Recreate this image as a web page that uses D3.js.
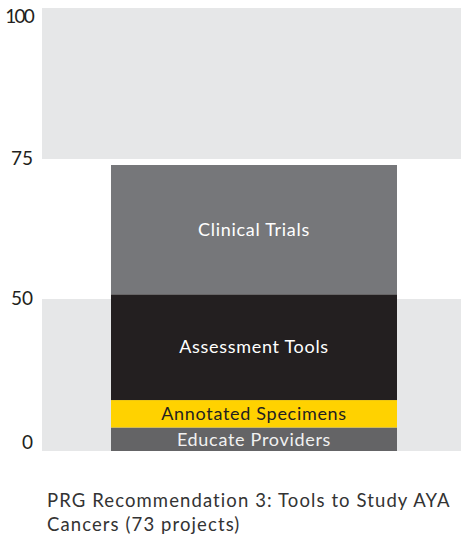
<!DOCTYPE html>
<html>
<head>
<meta charset="utf-8">
<script src="https://cdn.jsdelivr.net/npm/d3@7"></script>
<style>
  body { margin: 0; background: #fff; }
  svg text { font-family: Lato, "Open Sans", sans-serif; }
</style>
</head>
<body>
<svg id="chart" width="461" height="537"></svg>
<script>
// data
const categories = ["Educate Providers", "Annotated Specimens", "Assessment Tools", "Clinical Trials"];
const projects = [6, 7, 27, 33];
const colors = ["#646466", "#ffd200", "#231f20", "#76777a"];
const labelColors = ["#f1f1f1", "#231f20", "#ffffff", "#ffffff"];
const ticks = [0, 50, 75, 100];
const bands = [[75, 100], [0, 50]];
const title = ["PRG Recommendation 3: Tools to Study AYA", "Cancers (73 projects)"];

const svg = d3.select("#chart");

// axis ticks are spaced evenly-ish, not linear
const y = d3.scaleLinear()
  .domain(ticks)
  .range([451, 299, 159, 8]);

const total = d3.sum(projects);
const yBar = d3.scaleLinear()
  .domain([0, total])
  .range([451, 165]);

// grey background bands
svg.selectAll(".band")
  .data(bands)
  .enter()
  .append("rect")
  .attr("class", "band")
  .attr("x", 42)
  .attr("width", 461 - 42)
  .attr("y", d => y(d[1]))
  .attr("height", d => y(d[0]) - y(d[1]))
  .attr("fill", "#e6e7e8");

// tick labels
svg.selectAll(".tick-label")
  .data(ticks)
  .enter()
  .append("text")
  .attr("class", "tick-label")
  .attr("x", 33)
  .attr("y", d => y(d))
  .attr("dy", d => d === 0 ? "-0.12em" : d === 100 ? "0.78em" : "0.34em")
  .attr("text-anchor", "end")
  .attr("font-size", 19)
  .attr("letter-spacing", d => d === 100 ? "-1.8px" : "0px")
  .attr("fill", "#231f20")
  .text(d => d);

// stacked bar
const stacked = [];
let acc = 0;
projects.forEach((v, i) => {
  stacked.push({ name: categories[i], y0: acc, y1: acc + v, i: i });
  acc += v;
});

const barX = 111, barW = 286;

svg.selectAll(".seg")
  .data(stacked)
  .enter()
  .append("rect")
  .attr("class", "seg")
  .attr("x", barX)
  .attr("width", barW)
  .attr("y", d => yBar(d.y1))
  .attr("height", d => yBar(d.y0) - yBar(d.y1))
  .attr("fill", d => colors[d.i]);

svg.selectAll(".seg-label")
  .data(stacked)
  .enter()
  .append("text")
  .attr("class", "seg-label")
  .attr("x", barX + barW / 2)
  .attr("y", d => (yBar(d.y0) + yBar(d.y1)) / 2)
  .attr("dy", "0.35em")
  .attr("text-anchor", "middle")
  .attr("font-size", 18)
  .attr("letter-spacing", "0.7px")
  .attr("fill", d => labelColors[d.i])
  .text(d => d.name);

// caption
svg.selectAll(".caption")
  .data(title)
  .enter()
  .append("text")
  .attr("class", "caption")
  .attr("x", 47)
  .attr("y", (d, i) => 507 + i * 24)
  .attr("font-size", 18.5)
  .attr("letter-spacing", "1.1px")
  .attr("fill", "#333")
  .text(d => d);
</script>
</body>
</html>
